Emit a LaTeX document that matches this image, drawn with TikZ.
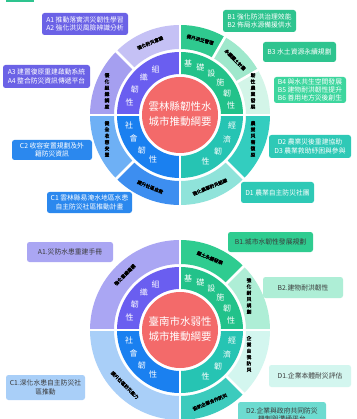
\documentclass[tikz,border=0pt]{standalone}
\usepackage{fontspec}
\setmainfont{Noto Sans CJK TC}
\newfontfamily\cjkb{Noto Sans CJK TC}[FakeBold=2]
\definecolor{redc}{HTML}{F36A6A}
\definecolor{midA}{HTML}{6A5EF0}
\definecolor{midB}{HTML}{22C28A}
\definecolor{midC}{HTML}{1A80F0}
\definecolor{midD}{HTML}{26C4B3}
\definecolor{tA1}{HTML}{C5C1F5}
\definecolor{tA2}{HTML}{A59FF0}
\definecolor{tB1}{HTML}{2FC98F}
\definecolor{tB2}{HTML}{9FE8CC}
\definecolor{tB3}{HTML}{D3F5E8}
\definecolor{tD1}{HTML}{33CDBF}
\definecolor{tD2}{HTML}{8FE3DA}
\definecolor{tC1}{HTML}{6EB0F5}
\definecolor{tC2}{HTML}{3D8EF0}
\definecolor{bA}{HTML}{AAA6F3}
\definecolor{bB1}{HTML}{2FCC90}
\definecolor{bB2}{HTML}{AEEED6}
\definecolor{bC}{HTML}{A9CFF8}
\definecolor{bD1}{HTML}{D3F6EF}
\definecolor{bD2}{HTML}{3CCBBD}
\definecolor{boxA}{HTML}{6B62E6}
\definecolor{boxB}{HTML}{2EC48F}
\definecolor{boxBl}{HTML}{3DD69E}
\definecolor{boxC}{HTML}{2B88EE}
\definecolor{boxD}{HTML}{2EC9B6}
\definecolor{bD2box}{HTML}{6DDBD0}
\definecolor{txtdark}{HTML}{3A3A3A}
\newcommand\annsec[7]{%
  \fill[#7] ([shift={(#1,#2)}]#5:#4) arc[start angle=#5,end angle=#6,radius=#4]
    -- ([shift={(#1,#2)}]#6:#3) arc[start angle=#6,end angle=#5,radius=#3] -- cycle;}
\newcommand\gapline[4]{%
  \draw[white,line width=2.6pt] ([shift={(#1,#2)}]#3:#4) -- ([shift={(#1,#2)}]#3:92);}
\newcommand\midring[3]{%
  \annsec{#1}{#2}{41}{63}{90}{180}{midA}
  \annsec{#1}{#2}{41}{63}{0}{90}{midB}
  \annsec{#1}{#2}{41}{63}{180}{270}{midC}
  \annsec{#1}{#2}{41}{63}{-90}{0}{midD}
  \foreach \ch/\a [count=\i] in {組/118,織/134,韌/150,性/166}
    \node[midch] (#3a\i) at ([shift={(#1,#2)}]\a:52) {\ch};
  \foreach \ch/\a [count=\i] in {基/81,礎/67,設/53,施/39,韌/25,性/11}
    \node[midch] (#3b\i) at ([shift={(#1,#2)}]\a:52) {\ch};
  \foreach \ch/\a [count=\i] in {社/-168,會/-153,韌/-137,性/-121}
    \node[midch] (#3c\i) at ([shift={(#1,#2)}]\a:52) {\ch};
  \foreach \ch/\a [count=\i] in {經/-11,濟/-27,韌/-44,性/-61}
    \node[midch] (#3d\i) at ([shift={(#1,#2)}]\a:53) {\ch};
}
\tikzset{
  midch/.style={text=white,font=\fontsize{8}{9}\selectfont,inner sep=0pt},
  centertxt/.style={text=white,align=center,font=\fontsize{10.5}{15}\selectfont,inner sep=0pt},
  olab/.style={text=black,font=\cjkb\fontsize{4.6}{5.5}\selectfont,inner sep=0pt},
  vlab/.style={text=black,align=center,font=\cjkb\fontsize{4.8}{6.3}\selectfont,inner sep=0pt},
  box/.style={rounded corners=2.5pt,inner sep=1pt,align=center,font=\fontsize{6.8}{8.3}\selectfont},
  wbox/.style={box,text=white},
  dbox/.style={box,text=txtdark},
}
\begin{document}
\begin{tikzpicture}[x=1pt,y=1pt]
\useasboundingbox (0,0) rectangle (356,-419);
\clip (0,0) rectangle (356,-419);
\fill[white] (0,0) rectangle (356,-419);
\fill[boxB] (6,0) rectangle (34,-2.5);

% ---------- top diagram ----------
\annsec{180}{-115}{66}{90}{90}{135}{tA1}
\annsec{180}{-115}{66}{90}{135}{180}{tA2}
\annsec{180}{-115}{66}{90}{60}{90}{tB1}
\annsec{180}{-115}{66}{90}{30}{60}{tB2}
\annsec{180}{-115}{66}{90}{0}{30}{tB3}
\annsec{180}{-115}{66}{90}{-45}{0}{tD1}
\annsec{180}{-115}{66}{90}{-90}{-45}{tD2}
\annsec{180}{-115}{66}{90}{180}{225}{tC1}
\annsec{180}{-115}{66}{90}{225}{270}{tC2}
\midring{180}{-115}{t}
\foreach \a in {0,90,180,270} {\gapline{180}{-115}{\a}{39}}
\foreach \a in {135,60,30,-45,-135} {\gapline{180}{-115}{\a}{64}}
\fill[redc] (180,-115) circle[radius=38];
\node[centertxt] (tcen) at (180,-114) {雲林縣韌性水\\城市推動綱要};

\node[olab,rotate=22.5] (toa1) at ([shift={(180,-115)}]112.5:78) {強化防災意識};
\node[vlab] (toa2) at (107,-91) {優\\化\\組\\織\\調\\度};
\node[olab,rotate=-15] (tob1) at ([shift={(180,-115)}]75:78) {提升洪泛管理};
\node[olab,rotate=-45] (tob2) at ([shift={(180,-115)}]45:78) {永續國土計畫};
\node[vlab] (tob3) at (253,-91) {韌\\性\\農\\業\\發\\展};
\node[vlab] (tod1) at (253,-139) {農\\業\\災\\害\\復\\原};
\node[olab,rotate=22.5] (tod2) at ([shift={(180,-115)}]-67.5:78) {強化農業防災組織};
\node[vlab] (toc1) at (107,-139) {健\\全\\收\\容\\安\\置};
\node[olab,rotate=-22.5] (toc2) at ([shift={(180,-115)}]-112.5:78) {提升社區自救};

\node[wbox,fill=boxA,minimum width=86pt,minimum height=22pt] (ta12) at (85,-24) {A1 推動落實洪災韌性學習\\A2 強化洪災風險辨識分析};
\node[wbox,fill=boxA,minimum width=87pt,minimum height=23pt] (ta34) at (46.5,-76.5) {A3 建置復原重建啟動系統\\A4 整合防災資訊傳遞平台};
\node[wbox,fill=boxB,minimum width=73pt,minimum height=22pt] (tb12) at (259.5,-21) {B1 強化防洪治理效能\\B2 佈局水源備援供水};
\node[wbox,fill=boxB,minimum width=73pt,minimum height=20pt] (tb3) at (299.5,-52) {B3 水土資源永續規劃};
\node[wbox,fill=boxBl,minimum width=72pt,minimum height=26pt] (tb456) at (310,-90) {B4 與水共生空間發展\\B5 建物耐洪韌性提升\\B6 善用地方災後創生};
\node[wbox,fill=boxC,minimum width=80pt,minimum height=20pt] (tc2) at (52,-150) {C2 收容安置規劃及外\\籍防災資訊};
\node[wbox,fill=boxC,minimum width=85pt,minimum height=21pt] (tc1) at (89.5,-202.5) {C1 雲林縣易淹水地區水患\\自主防災社區推動計畫};
\node[wbox,fill=boxD,minimum width=82pt,minimum height=23pt] (td23) at (310,-146.5) {D2 農業災後重建協助\\D3 農業救助紓困與參與};
\node[wbox,fill=boxD,minimum width=73pt,minimum height=21pt] (td1) at (277.5,-192.5) {D1 農業自主防災社團};

% ---------- bottom diagram ----------
\annsec{180}{-330}{66}{90}{90}{180}{bA}
\annsec{180}{-330}{66}{90}{45}{90}{bB1}
\annsec{180}{-330}{66}{90}{0}{45}{bB2}
\annsec{180}{-330}{66}{90}{180}{270}{bC}
\annsec{180}{-330}{66}{90}{-45}{0}{bD1}
\annsec{180}{-330}{66}{90}{-90}{-45}{bD2}
\midring{180}{-330}{b}
\foreach \a in {0,90,180,270} {\gapline{180}{-330}{\a}{39}}
\foreach \a in {45,-45} {\gapline{180}{-330}{\a}{64}}
\fill[redc] (180,-330) circle[radius=38];
\node[centertxt] (bcen) at (180,-329) {臺南市水弱性\\城市推動綱要};

\node[olab,rotate=45] (boa) at ([shift={(180,-330)}]135:78) {強化意識建構};
\node[olab,rotate=-22.5] (bob1) at ([shift={(180,-330)}]67.5:78) {國土永續發展};
\node[vlab] (bob2) at (249,-296) {強\\化\\耐\\災\\規\\劃};
\node[vlab] (bod1) at (249,-354) {企\\業\\自\\我\\防\\災};
\node[olab,rotate=22.5] (bod2) at ([shift={(180,-330)}]-67.5:78) {協助企業合作防災};
\node[olab,rotate=-45] (boc) at ([shift={(180,-330)}]-135:78) {提升社區防災能力};

\node[dbox,fill=bA,minimum width=86pt,minimum height=20pt] (ba1) at (70,-252) {A1.災防水患重建手冊};
\node[dbox,fill=bB1,minimum width=85pt,minimum height=20pt] (bb1) at (270.5,-242) {B1.城市水韌性發展規劃};
\node[dbox,fill=bB2,minimum width=80pt,minimum height=21pt] (bb2) at (303,-287.5) {B2.建物耐洪韌性};
\node[dbox,fill=bC,minimum width=79pt,minimum height=25pt] (bc1) at (45.5,-387.5) {C1.深化水患自主防災社\\區推動};
\node[dbox,fill=bD1,minimum width=82pt,minimum height=22pt] (bd1) at (310,-376) {D1.企業本體耐災評估};
\node[dbox,fill=bD2box,minimum width=88pt,minimum height=26pt] (bd2) at (282,-415) {D2.企業與政府共同防災\\機制與溝通平台};
\end{tikzpicture}
\end{document}
